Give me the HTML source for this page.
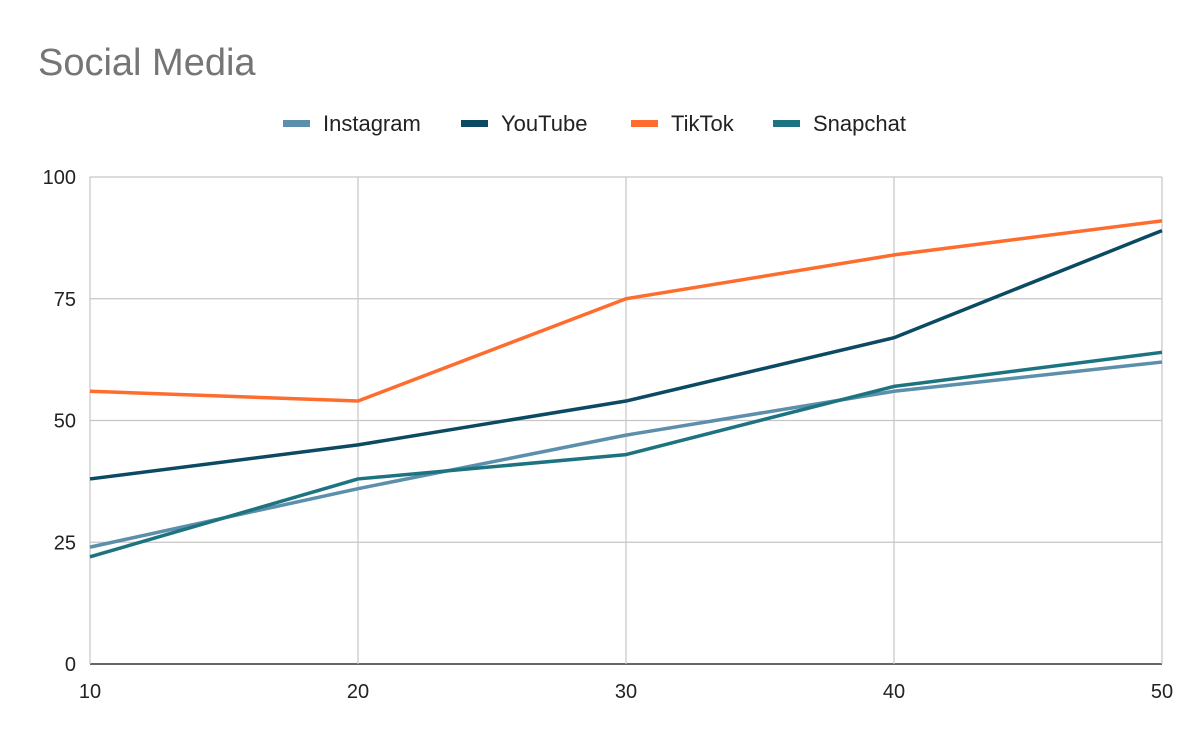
<!DOCTYPE html>
<html><head><meta charset="utf-8"><style>
body{margin:0;background:#fff;font-family:"Liberation Sans",Arial,sans-serif}
svg{display:block}
</style></head><body>
<svg id="chart" width="1200" height="742" xmlns="http://www.w3.org/2000/svg">
<rect width="1200" height="742" fill="#fff"/>
<text x="38" y="75" font-size="38" fill="#757575" font-family="Liberation Sans, Arial, sans-serif">Social Media</text>
<g id="grid"></g><g id="lines"></g><g id="legend"></g>
</svg>
<script>
const categories=[10,20,30,40,50];
const seriesNames=["Instagram","YouTube","TikTok","Snapchat"];
const instagram=[24,36,47,56,62];
const youtube=[38,45,54,67,89];
const tiktok=[56,54,75,84,91];
const snapchat=[22,38,43,57,64];
const yTicks=[0,25,50,75,100];
const colors=["#5b8fab","#0b4a62","#ff6d2e","#1d7480"];
const allSeries=[instagram,youtube,tiktok,snapchat];
const NS="http://www.w3.org/2000/svg";
const L=90,R=1162,T=177,B=664;
const xs=v=>L+(v-10)/40*(R-L);
const ys=v=>B-v/100*(B-T);
function mk(tag,attrs,parent){const e=document.createElementNS(NS,tag);for(const k in attrs)e.setAttribute(k,attrs[k]);parent.appendChild(e);return e;}
const grid=document.getElementById('grid');
yTicks.forEach(t=>{
 const l=mk('line',{x1:L,x2:R,y1:ys(t),y2:ys(t),stroke:t===0?'#333':'#c6c6c6','stroke-width':t===0?1.5:1.2},grid);
 
 
 const tx=mk('text',{x:76,y:ys(t)+7,'text-anchor':'end','font-size':20,fill:'#222'},grid);
 tx.textContent=t;
 
 
});
categories.forEach(c=>{
 const l=mk('line',{x1:xs(c),x2:xs(c),y1:T,y2:B,stroke:'#c6c6c6','stroke-width':1.2},grid);
 
 
 const tx=mk('text',{x:xs(c),y:698,'text-anchor':'middle','font-size':20,fill:'#222'},grid);
 tx.textContent=c;
 
 
});
const lines=document.getElementById('lines');
allSeries.forEach((s,i)=>{
 const p=mk('polyline',{points:s.map((v,j)=>xs(categories[j])+','+ys(v)).join(' '),fill:'none',stroke:colors[i],'stroke-width':3.5,'stroke-linejoin':'round'},lines);
 
 
});
const lg=document.getElementById('legend');
const legX=[283,461,631,773];
seriesNames.forEach((n,i)=>{
 const g=mk('g',{},lg);
 
 
 mk('rect',{x:legX[i],y:120,width:27,height:7,fill:colors[i]},g);
 const t=mk('text',{x:legX[i]+40,y:131,'font-size':22,fill:'#222'},g);
 t.textContent=n;
});
</script>
</body></html>
